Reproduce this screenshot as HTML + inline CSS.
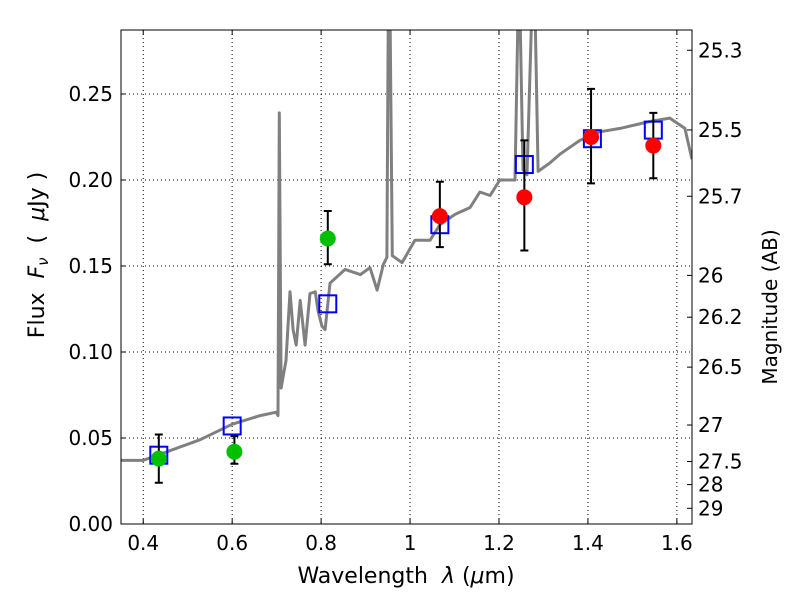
<!DOCTYPE html>
<html><head><meta charset="utf-8"><style>
body{margin:0;background:#fff;}
svg{display:block;font-family:"DejaVu Sans","Liberation Sans",sans-serif;}
</style></head><body>
<svg id="chart" width="800" height="600" xmlns="http://www.w3.org/2000/svg">
<g id="grid"></g>
<g id="spec"></g>
<g id="marks"></g>
<rect x="121" y="30" width="571" height="494" fill="none" stroke="#000" stroke-width="1"/>
<g id="axes"></g>
<text x="406" y="583" font-size="22" text-anchor="middle" xml:space="preserve">Wavelength  <tspan font-style="italic">λ</tspan> (<tspan font-style="italic">μ</tspan>m)</text>
<text transform="translate(44,255) rotate(-90)" font-size="22" text-anchor="middle" xml:space="preserve">Flux  <tspan font-style="italic">F<tspan font-size="15" dy="4">ν</tspan></tspan><tspan dy="-4">  (  </tspan><tspan font-style="italic">μ</tspan>Jy )</text>
<text transform="translate(777,307) rotate(-90)" font-size="20" text-anchor="middle">Magnitude (AB)</text>
</svg>
<script>
const xTicks=[0.4,0.6,0.8,1.0,1.2,1.4,1.6];
const xTickLabels=["0.4","0.6","0.8","1","1.2","1.4","1.6"];
const yTicks=[0,0.05,0.10,0.15,0.20,0.25];
const yTickLabels=["0.00","0.05","0.10","0.15","0.20","0.25"];
const magTicks=[25.3,25.5,25.7,26,26.2,26.5,27,27.5,28,29];
const magTickLabels=["25.3","25.5","25.7","26","26.2","26.5","27","27.5","28","29"];
const specWave=[0.35,0.4,0.528,0.6,0.663,0.699,0.703,0.706,0.71,0.721,0.73,0.737,0.744,0.753,0.764,0.775,0.787,0.793,0.802,0.809,0.82,0.854,0.888,0.91,0.926,0.94,0.948,0.951,0.955,0.96,0.982,1.011,1.045,1.067,1.101,1.135,1.157,1.18,1.202,1.236,1.243,1.247,1.254,1.263,1.274,1.281,1.288,1.315,1.337,1.382,1.427,1.472,1.539,1.584,1.618,1.634];
const specFlux=[0.037,0.037,0.049,0.058,0.063,0.065,0.063,0.239,0.079,0.095,0.135,0.113,0.104,0.130,0.104,0.134,0.135,0.124,0.115,0.113,0.14,0.148,0.145,0.149,0.136,0.151,0.155,0.30,0.30,0.156,0.152,0.165,0.165,0.174,0.180,0.184,0.193,0.191,0.2,0.2,0.30,0.30,0.206,0.203,0.30,0.30,0.205,0.21,0.215,0.223,0.228,0.23,0.234,0.236,0.23,0.212];
const greenWave=[0.435,0.605,0.815];
const greenFlux=[0.038,0.042,0.166];
const greenLo=[0.024,0.035,0.151];
const greenHi=[0.052,0.051,0.182];
const redWave=[1.067,1.257,1.407,1.547];
const redFlux=[0.179,0.190,0.225,0.220];
const redLo=[0.161,0.159,0.198,0.201];
const redHi=[0.199,0.223,0.253,0.239];
const modelWave=[0.435,0.6,0.815,1.067,1.257,1.41,1.547];
const modelFlux=[0.040,0.057,0.128,0.174,0.209,0.224,0.229];

const X0=121,X1=692,Y0=524,Y1=30,xmin=0.35,xmax=1.634,ymin=0,ymax=0.2872;
const sx=v=>X0+(v-xmin)/(xmax-xmin)*(X1-X0);
const sy=v=>Y0-(v-ymin)/(ymax-ymin)*(Y0-Y1);
const magToFlux=m=>Math.pow(10,(23.9-m)/2.5);
const NS="http://www.w3.org/2000/svg";
function mk(tag,attrs,parent){const e=document.createElementNS(NS,tag);for(const k in attrs)e.setAttribute(k,attrs[k]);parent.appendChild(e);return e;}
const grid=document.getElementById('grid'),axes=document.getElementById('axes'),spec=document.getElementById('spec'),marks=document.getElementById('marks');
xTicks.forEach((t,i)=>{const x=sx(t);
 let g=mk('line',{x1:x,x2:x,y1:Y1,y2:Y0,stroke:'#000','stroke-dasharray':'1,3','stroke-width':1},grid);
 
 let l=mk('line',{x1:x,x2:x,y1:Y0,y2:Y0-5,stroke:'#000'},axes);
 
 let l2=mk('line',{x1:x,x2:x,y1:Y1,y2:Y1+5,stroke:'#000'},axes);
 
 let tx=mk('text',{x:x,y:Y0+26,'font-size':20,'text-anchor':'middle'},axes);tx.textContent=xTickLabels[i];
 });
yTicks.forEach((t,i)=>{const y=sy(t);
 let g=mk('line',{x1:X0,x2:X1,y1:y,y2:y,stroke:'#000','stroke-dasharray':'1,3','stroke-width':1},grid);
 
 let l=mk('line',{x1:X0,x2:X0+5,y1:y,y2:y,stroke:'#000'},axes);
 
 let tx=mk('text',{x:X0-8,y:y+7,'font-size':20,'text-anchor':'end'},axes);tx.textContent=yTickLabels[i];
 });
magTicks.forEach((m,i)=>{const y=sy(magToFlux(m));
 let l=mk('line',{x1:X1-5,x2:X1,y1:y,y2:y,stroke:'#000'},axes);
 
 let tx=mk('text',{x:X1+6,y:y+7,'font-size':20},axes);tx.textContent=magTickLabels[i];
 });
const cp=mk('clipPath',{id:'clip'},spec);mk('rect',{x:X0,y:Y1,width:X1-X0,height:Y0-Y1},cp);
const pts=specWave.map((w,i)=>sx(w).toFixed(1)+','+sy(specFlux[i]).toFixed(1)).join(' ');
const pl=mk('polyline',{points:pts,fill:'none',stroke:'#808080','stroke-width':3,'clip-path':'url(#clip)','stroke-linejoin':'round'},spec);

function errbar(w,lo,hi){const x=sx(w);
 const e=mk('path',{d:`M${x},${sy(lo)}V${sy(hi)}M${x-4},${sy(lo)}H${x+4}M${x-4},${sy(hi)}H${x+4}`,stroke:'#000','stroke-width':2,fill:'none'},marks);
 }
modelWave.forEach((w,i)=>{const r=mk('rect',{x:sx(w)-8.5,y:sy(modelFlux[i])-8.5,width:17,height:17,fill:'none',stroke:'#0000ff','stroke-width':2},marks);
 });
greenWave.forEach((w,i)=>{errbar(w,greenLo[i],greenHi[i]);
 const c=mk('circle',{cx:sx(w),cy:sy(greenFlux[i]),r:8,fill:'#00c000'},marks);
 });
redWave.forEach((w,i)=>{errbar(w,redLo[i],redHi[i]);
 const c=mk('circle',{cx:sx(w),cy:sy(redFlux[i]),r:8,fill:'#ff0000'},marks);
 });
</script>
</body></html>
